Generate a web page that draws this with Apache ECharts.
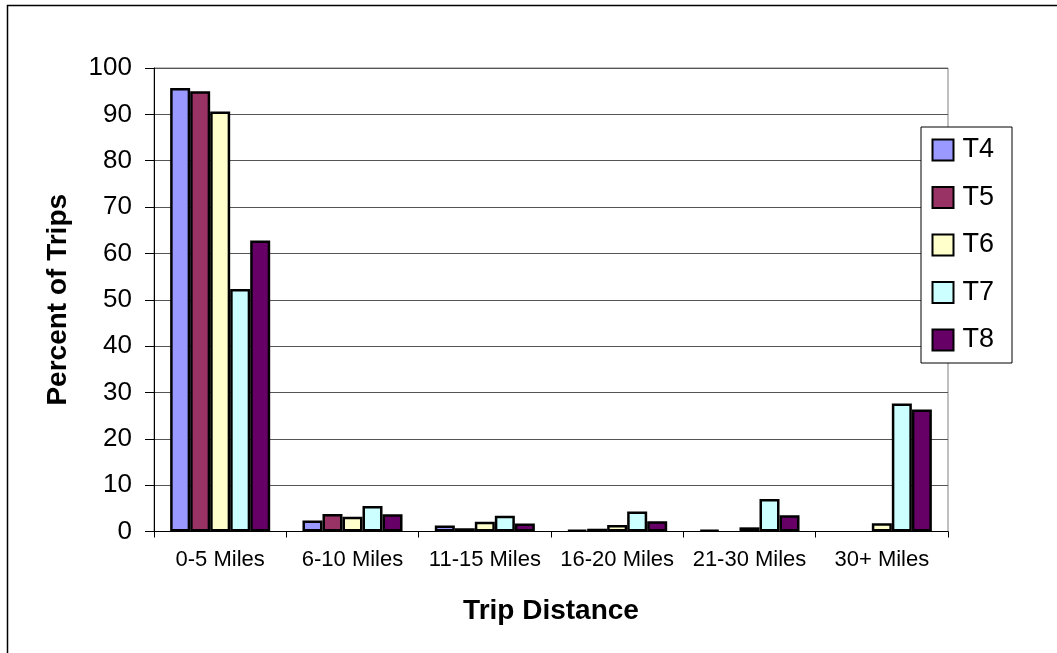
<!DOCTYPE html>
<html>
<head>
<meta charset="utf-8">
<script src="https://cdn.jsdelivr.net/npm/echarts@6/dist/echarts.min.js"></script>
<style>
  html, body { margin: 0; padding: 0; background: #fff; }
  #chart { width: 1057px; height: 653px; }
</style>
</head>
<body>
<div id="chart"></div>
<script>
const categories = ['0-5 Miles', '6-10 Miles', '11-15 Miles', '16-20 Miles', '21-30 Miles', '30+ Miles'];
const seriesNames = ['T4', 'T5', 'T6', 'T7', 'T8'];
const T4 = [95.7, 2.4, 1.3, 0.3, 0.3, 0];
const T5 = [95.0, 3.8, 0.7, 0.6, 0, 0];
const T6 = [90.6, 3.2, 2.1, 1.4, 0.9, 1.8];
const T7 = [52.3, 5.5, 3.4, 4.3, 7.0, 27.6];
const T8 = [62.8, 3.7, 1.7, 2.2, 3.5, 26.3];
const yTicks = { min: 0, max: 100, interval: 10 };
const colors = ['#9999FF', '#993366', '#FFFFCC', '#CCFFFF', '#660066'];

const FONT = "'Liberation Sans', Arial, sans-serif";
const allData = [T4, T5, T6, T7, T8];

const series = seriesNames.map((name, i) => ({
  name: name,
  type: 'bar',
  barGap: '0%',
  barCategoryGap: '24.4%',
  itemStyle: { color: colors[i], borderColor: '#000', borderWidth: 2.5 },
  emphasis: { disabled: true },
  data: allData[i].map(v => v === 0 ? { value: 0, itemStyle: { borderWidth: 0 } } : v)
}));

const chart = echarts.init(document.getElementById('chart'), null, { renderer: 'canvas' });
chart.setOption({
  animation: false,
  backgroundColor: '#fff',
  color: colors,
  textStyle: { fontFamily: FONT },
  graphic: [{
    type: 'rect',
    shape: { x: 7.5, y: 5.5, width: 1200, height: 800 },
    style: { fill: 'none', stroke: '#000', lineWidth: 1.5 },
    silent: true, z: 0
  }],
  grid: {
    left: 154, top: 68, right: 109, bottom: 121.5,
    show: true, borderColor: '#808080', borderWidth: 1, backgroundColor: '#fff'
  },
  legend: {
    orient: 'vertical',
    left: 921, top: 127,
    data: seriesNames,
    icon: 'rect',
    itemWidth: 21, itemHeight: 21,
    itemGap: 20.5,
    padding: [9.5, 18, 9.5, 10.5],
    borderColor: '#000', borderWidth: 1,
    backgroundColor: '#fff',
    textStyle: { fontFamily: FONT, fontSize: 27, color: '#000', lineHeight: 27, padding: [0, 0, 0, 4] }
  },
  xAxis: {
    type: 'category',
    data: categories,
    name: 'Trip Distance',
    nameLocation: 'middle',
    nameGap: 66,
    nameTextStyle: { fontFamily: FONT, fontSize: 28, fontWeight: 'bold', color: '#000' },
    axisLine: { lineStyle: { color: '#000', width: 1 } },
    axisTick: { show: true, alignWithLabel: false, length: 6, lineStyle: { color: '#000' } },
    axisLabel: { fontFamily: FONT, fontSize: 22, color: '#000', margin: 17, interval: 0 },
    splitLine: { show: false }
  },
  yAxis: {
    type: 'value',
    min: yTicks.min, max: yTicks.max, interval: yTicks.interval,
    name: 'Percent of Trips',
    nameLocation: 'middle',
    nameRotate: 90,
    nameGap: 82,
    nameTextStyle: { fontFamily: FONT, fontSize: 28, fontWeight: 'bold', color: '#000' },
    axisLine: { show: true, lineStyle: { color: '#000', width: 1 } },
    axisTick: { show: true, length: 9, lineStyle: { color: '#000' } },
    axisLabel: { fontFamily: FONT, fontSize: 26, color: '#000', margin: 22 },
    splitLine: { show: true, lineStyle: { color: '#555', width: 1 } }
  },
  series: series
});
</script>
</body>
</html>
